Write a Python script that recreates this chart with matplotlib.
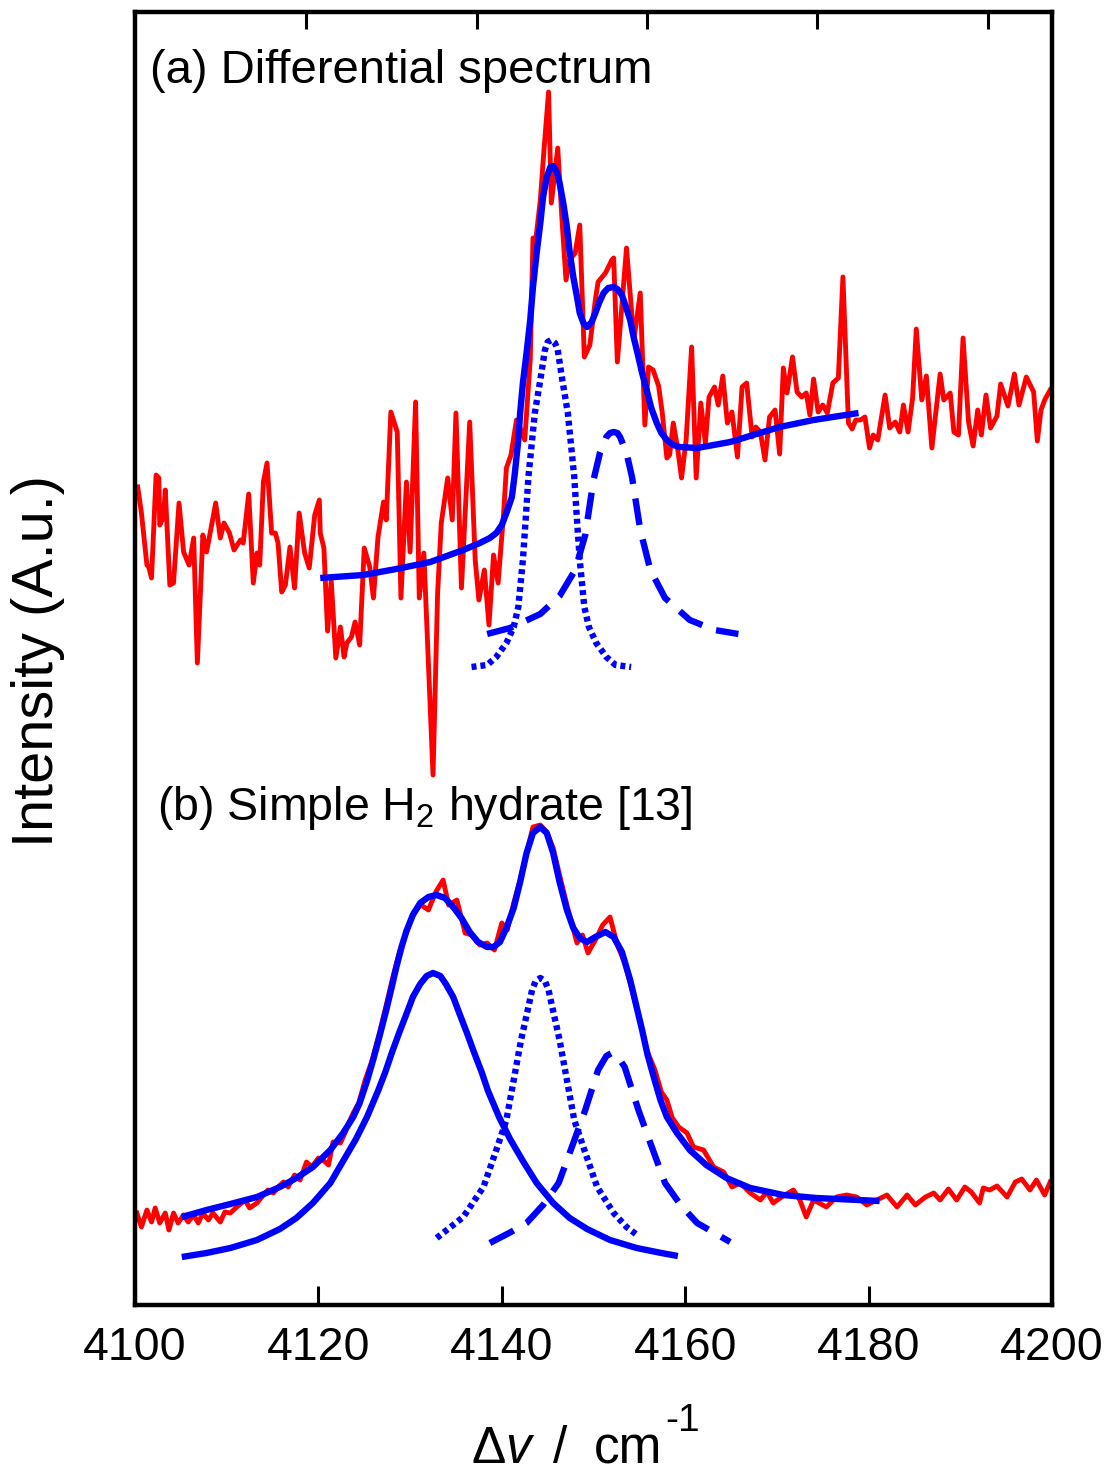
import matplotlib
matplotlib.use("Agg")
import matplotlib.pyplot as plt

plt.rcParams['font.family'] = ['Liberation Sans', 'DejaVu Sans']
plt.rcParams['mathtext.fontset'] = 'custom'
plt.rcParams['mathtext.rm'] = 'Liberation Sans'
plt.rcParams['mathtext.it'] = 'Liberation Sans:italic'

# (a) differential spectrum, raw data
wn_a = [4100.3, 4100.7, 4101.3, 4101.5, 4101.8, 4102.3, 4102.6, 4102.7, 4103.1, 4103.3,
        4103.8, 4104.2, 4104.8, 4105.3, 4105.9, 4106.4, 4106.8, 4107.4, 4107.8, 4108.4,
        4108.8, 4109.3, 4109.7, 4110.3, 4110.8, 4111.5, 4111.8, 4112.4, 4112.9, 4113.3,
        4113.6, 4114.0, 4114.4, 4114.9, 4115.3, 4115.6, 4116.0, 4116.4, 4116.9, 4117.4,
        4117.9, 4118.5, 4119.0, 4119.6, 4120.1, 4120.2, 4120.6, 4121.0, 4121.4, 4121.9,
        4122.4, 4122.8, 4123.1, 4123.6, 4124.0, 4124.5, 4125.0, 4125.6, 4126.0, 4126.5,
        4127.1, 4127.4, 4127.9, 4128.6, 4129.0, 4129.6, 4130.0, 4130.6, 4131.0, 4131.5,
        4132.5, 4133.0, 4133.4, 4134.1, 4134.6, 4135.0, 4135.6, 4136.5, 4137.1, 4137.5,
        4138.1, 4138.6, 4139.1, 4139.6, 4140.2, 4140.5, 4141.0, 4141.6, 4142.0, 4142.5,
        4143.1, 4143.4, 4143.7, 4144.2, 4144.6, 4145.1, 4145.4, 4146.1, 4146.6, 4147.0,
        4147.4, 4148.0, 4148.5, 4149.0, 4149.6, 4150.2, 4150.5, 4151.3, 4152.0, 4152.2,
        4152.6, 4153.6, 4154.4, 4155.1, 4155.6, 4156.0, 4156.5, 4157.1, 4157.5, 4158.0,
        4158.3, 4158.7, 4159.2, 4159.6, 4160.1, 4160.7, 4161.2, 4161.7, 4162.2, 4162.6,
        4163.2, 4163.6, 4164.1, 4164.6, 4165.1, 4165.7, 4166.2, 4166.7, 4167.3, 4167.7,
        4168.2, 4168.7, 4169.2, 4169.8, 4170.3, 4170.7, 4171.1, 4171.7, 4172.2, 4172.7,
        4173.2, 4173.6, 4174.0, 4174.5, 4175.0, 4175.5, 4176.1, 4176.7, 4177.2, 4177.8,
        4178.2, 4178.6, 4179.1, 4179.6, 4180.1, 4180.5, 4181.0, 4181.8, 4182.3, 4182.9,
        4183.4, 4183.8, 4184.3, 4184.8, 4185.2, 4185.8, 4186.3, 4186.9, 4187.8, 4188.2,
        4188.9, 4189.3, 4189.8, 4190.3, 4190.9, 4191.4, 4191.9, 4192.3, 4192.8, 4193.3,
        4194.0, 4194.4, 4195.2, 4195.9, 4196.4, 4197.2, 4198.0, 4198.4, 4198.8, 4199.2,
        4199.8]
int_a = [8.18, 7.92, 7.40, 7.38, 7.27, 8.30, 8.27, 7.80, 7.88, 8.15,
         7.20, 7.22, 8.02, 7.53, 7.40, 7.67, 6.42, 7.70, 7.53, 7.82,
         8.02, 7.67, 7.82, 7.72, 7.55, 7.65, 7.62, 8.11, 7.22, 7.52,
         7.40, 8.23, 8.42, 7.72, 7.72, 7.62, 7.13, 7.20, 7.58, 7.17,
         7.92, 7.52, 7.37, 7.90, 8.05, 7.72, 7.57, 6.74, 7.24, 6.47,
         6.78, 6.48, 6.62, 6.68, 6.83, 6.60, 7.57, 7.38, 7.07, 7.68,
         8.03, 7.85, 8.93, 8.73, 7.07, 8.23, 7.53, 9.03, 7.07, 7.52,
         5.30, 7.12, 7.82, 8.27, 7.85, 8.92, 7.17, 8.83, 7.45, 7.05,
         7.35, 6.80, 7.50, 7.22, 7.92, 8.37, 8.50, 8.85, 8.77, 8.65,
         9.45, 10.67, 10.65, 11.05, 11.55, 12.13, 11.02, 11.57, 10.80, 10.25,
         10.45, 10.52, 10.80, 9.48, 9.60, 10.05, 10.23, 10.32, 10.45, 10.47,
         9.43, 10.57, 9.65, 10.12, 8.80, 9.38, 9.35, 9.19, 8.92, 8.47,
         8.50, 8.82, 8.55, 8.27, 8.65, 9.58, 8.27, 9.02, 8.62, 9.08,
         9.18, 9.00, 9.29, 8.82, 8.93, 8.48, 9.18, 9.22, 8.68, 8.78,
         8.73, 8.45, 8.88, 8.95, 8.51, 9.37, 9.12, 9.48, 9.13, 9.08,
         9.12, 8.90, 9.26, 8.93, 9.00, 8.92, 9.22, 9.27, 10.28, 8.82,
         8.76, 8.85, 8.85, 8.88, 8.57, 8.70, 8.65, 9.10, 8.77, 8.83,
         8.73, 9.00, 8.73, 9.07, 9.76, 9.05, 9.29, 8.57, 9.31, 9.05,
         9.12, 8.73, 8.70, 9.67, 8.83, 8.59, 8.95, 8.70, 9.10, 8.77,
         8.89, 9.21, 8.99, 9.31, 9.00, 9.28, 9.13, 8.64, 8.95, 9.05,
         9.15]

# (a) fitted envelope and its two components
fit_a_wn = [4120.2, 4124.9, 4128.5, 4132.2, 4135.8, 4137.6, 4138.7, 4139.4, 4140.0, 4140.5,
            4141.1, 4141.4, 4141.8, 4142.0, 4142.3, 4142.7, 4143.1, 4143.4, 4143.8, 4144.2,
            4144.5, 4144.9, 4145.3, 4145.6, 4146.0, 4146.3, 4146.7, 4147.1, 4147.4, 4147.8,
            4148.2, 4148.5, 4148.9, 4149.3, 4149.8, 4150.2, 4150.6, 4151.1, 4151.6, 4152.2,
            4152.6, 4153.1, 4153.5, 4154.0, 4154.4, 4154.9, 4155.3, 4155.8, 4156.3, 4156.9,
            4157.4, 4158.0, 4158.7, 4159.4, 4161.3, 4163.1, 4164.9, 4166.7, 4168.5, 4170.3,
            4174.0, 4178.9]
fit_a_int = [7.27, 7.30, 7.36, 7.43, 7.55, 7.62, 7.67, 7.72, 7.80, 7.92,
             8.08, 8.30, 8.65, 8.92, 9.22, 9.52, 9.85, 10.18, 10.52, 10.82,
             11.08, 11.28, 11.38, 11.39, 11.33, 11.22, 11.02, 10.78, 10.53, 10.28,
             10.08, 9.92, 9.82, 9.78, 9.83, 9.92, 10.02, 10.12, 10.17, 10.18,
             10.16, 10.10, 9.99, 9.85, 9.67, 9.48, 9.32, 9.15, 8.97, 8.82,
             8.72, 8.65, 8.60, 8.58, 8.57, 8.60, 8.63, 8.68, 8.73, 8.78,
             8.85, 8.92]

peak1_a_wn = [4136.7, 4138.4, 4139.4, 4140.5, 4141.3, 4141.8, 4142.3, 4142.6, 4142.9, 4143.6,
              4144.2, 4144.7, 4145.0, 4145.4, 4145.8, 4146.1, 4146.6, 4147.2, 4147.9, 4148.2,
              4148.5, 4149.0, 4149.5, 4150.3, 4151.4, 4152.4, 4154.1]
peak1_a_int = [6.38, 6.40, 6.48, 6.62, 6.78, 6.98, 7.45, 7.85, 8.28, 8.92,
               9.25, 9.55, 9.63, 9.65, 9.62, 9.55, 9.25, 8.92, 8.28, 7.85,
               7.45, 6.98, 6.78, 6.62, 6.48, 6.40, 6.38]

peak2_a_wn = [4138.4, 4140.9, 4144.2, 4146.3, 4148.0, 4149.1, 4150.0, 4150.7, 4151.4, 4151.8,
              4152.2, 4152.6, 4152.9, 4153.6, 4154.2, 4155.1, 4156.2, 4157.8, 4160.5, 4163.2,
              4165.8]
peak2_a_int = [6.71, 6.77, 6.91, 7.09, 7.35, 7.70, 8.25, 8.52, 8.68, 8.72,
               8.73, 8.72, 8.68, 8.52, 8.28, 7.75, 7.35, 7.07, 6.85, 6.75,
               6.71]

# (b) simple H2 hydrate, raw data
wn_b = [4100.2, 4100.7, 4101.3, 4101.8, 4102.2, 4102.7, 4103.3, 4103.7, 4104.2, 4104.7,
        4105.3, 4105.8, 4106.4, 4106.9, 4107.4, 4108.0, 4108.5, 4109.3, 4109.8, 4110.4,
        4111.1, 4112.0, 4112.5, 4113.3, 4114.0, 4114.5, 4115.1, 4115.6, 4116.2, 4116.7,
        4117.4, 4118.0, 4118.7, 4119.3, 4120.0, 4120.5, 4121.1, 4121.6, 4122.4, 4122.9,
        4123.3, 4123.8, 4124.4, 4125.1, 4125.8, 4126.6, 4127.4, 4128.1, 4128.9, 4129.7,
        4130.4, 4131.2, 4132.0, 4132.8, 4133.6, 4134.2, 4135.1, 4136.0, 4136.7, 4137.6,
        4138.4, 4139.2, 4140.0, 4140.6, 4141.3, 4142.0, 4142.7, 4143.4, 4144.2, 4144.9,
        4145.6, 4146.3, 4147.1, 4148.2, 4148.8, 4149.4, 4150.2, 4151.0, 4151.8, 4152.6,
        4153.4, 4154.2, 4155.1, 4155.8, 4156.7, 4157.4, 4158.0, 4158.6, 4159.3, 4160.2,
        4160.9, 4162.0, 4163.1, 4164.2, 4165.1, 4166.0, 4167.1, 4168.2, 4168.9, 4169.6,
        4170.5, 4171.8, 4172.5, 4173.2, 4174.0, 4175.4, 4176.5, 4177.6, 4178.7, 4179.8,
        4180.9, 4182.0, 4183.1, 4184.2, 4185.1, 4186.2, 4187.1, 4187.8, 4188.7, 4189.6,
        4190.5, 4191.2, 4192.1, 4192.5, 4193.2, 4194.0, 4195.1, 4196.0, 4196.7, 4197.6,
        4198.3, 4199.2, 4199.8]
int_b = [0.92, 0.78, 0.95, 0.83, 0.97, 0.82, 0.92, 0.75, 0.92, 0.82,
         0.90, 0.83, 0.90, 0.82, 0.92, 0.85, 0.92, 0.83, 0.93, 0.92,
         0.98, 1.05, 0.97, 1.02, 1.10, 1.15, 1.12, 1.18, 1.23, 1.18,
         1.30, 1.25, 1.43, 1.38, 1.47, 1.45, 1.40, 1.63, 1.62, 1.72,
         1.82, 1.92, 2.02, 2.25, 2.43, 2.70, 3.00, 3.27, 3.55, 3.75,
         3.93, 4.00, 3.95, 4.13, 4.25, 4.00, 4.05, 3.72, 3.70, 3.60,
         3.62, 3.55, 3.82, 3.75, 4.02, 4.25, 4.52, 4.78, 4.80, 4.73,
         4.57, 4.30, 4.00, 3.62, 3.70, 3.52, 3.65, 3.80, 3.88, 3.60,
         3.42, 3.15, 2.83, 2.55, 2.35, 2.13, 2.05, 1.87, 1.78, 1.72,
         1.58, 1.55, 1.38, 1.33, 1.18, 1.22, 1.12, 1.05, 1.13, 1.02,
         1.08, 1.15, 1.05, 0.88, 1.05, 0.98, 1.08, 1.10, 1.08, 1.00,
         1.05, 1.10, 0.98, 1.10, 1.00, 1.08, 1.12, 1.05, 1.16, 1.05,
         1.18, 1.13, 1.02, 1.17, 1.15, 1.19, 1.08, 1.23, 1.26, 1.15,
         1.25, 1.10, 1.23]

# (b) fitted envelope and its three components
fit_b_wn = [4105.1, 4107.8, 4110.4, 4113.3, 4115.8, 4117.6, 4119.4, 4121.3, 4122.7, 4123.8,
            4124.5, 4125.3, 4126.0, 4126.7, 4127.4, 4128.0, 4128.5, 4129.1, 4129.6, 4130.3,
            4131.1, 4132.0, 4132.9, 4133.8, 4134.7, 4135.6, 4136.5, 4137.4, 4138.4, 4139.1,
            4139.8, 4140.5, 4141.3, 4142.0, 4142.7, 4143.4, 4144.2, 4144.9, 4145.6, 4146.3,
            4147.1, 4147.8, 4148.5, 4149.3, 4150.2, 4151.3, 4152.2, 4153.1, 4154.0, 4154.7,
            4155.3, 4155.9, 4156.6, 4157.3, 4158.0, 4159.1, 4160.5, 4162.3, 4164.5, 4167.1,
            4170.7, 4174.3, 4181.2]
fit_b_int = [0.88, 0.95, 1.01, 1.08, 1.18, 1.27, 1.38, 1.55, 1.72, 1.88,
             2.02, 2.24, 2.46, 2.70, 2.95, 3.18, 3.38, 3.59, 3.74, 3.90,
             4.02, 4.08, 4.10, 4.07, 3.98, 3.87, 3.73, 3.63, 3.58, 3.58,
             3.63, 3.77, 3.97, 4.23, 4.52, 4.72, 4.78, 4.72, 4.52, 4.23,
             3.95, 3.77, 3.67, 3.63, 3.68, 3.73, 3.68, 3.53, 3.25, 2.98,
             2.75, 2.50, 2.27, 2.05, 1.88, 1.72, 1.55, 1.40, 1.27, 1.17,
             1.10, 1.07, 1.04]

peak1_b_wn = [4105.1, 4107.8, 4110.4, 4113.3, 4115.8, 4117.6, 4119.4, 4121.3, 4122.7, 4124.1,
              4125.3, 4126.5, 4127.3, 4128.0, 4128.8, 4129.6, 4130.3, 4131.1, 4131.8, 4132.5,
              4133.3, 4133.9, 4134.7, 4135.4, 4136.2, 4137.0, 4137.8, 4138.5, 4139.7, 4140.9,
              4142.3, 4143.8, 4145.6, 4147.4, 4149.3, 4151.8, 4154.7, 4157.4, 4159.2]
peak1_b_int = [0.48, 0.52, 0.57, 0.65, 0.76, 0.87, 1.02, 1.22, 1.44, 1.66,
               1.88, 2.14, 2.33, 2.52, 2.72, 2.91, 3.08, 3.21, 3.29, 3.32,
               3.29, 3.21, 3.08, 2.91, 2.72, 2.52, 2.33, 2.14, 1.88, 1.66,
               1.44, 1.22, 1.02, 0.87, 0.76, 0.65, 0.57, 0.52, 0.49]

peak2_b_wn = [4132.9, 4135.8, 4138.0, 4139.4, 4140.5, 4141.4, 4142.1, 4142.9, 4143.3, 4143.7,
              4144.2, 4144.7, 4145.1, 4145.5, 4146.3, 4147.0, 4147.9, 4149.0, 4150.4, 4152.2,
              4153.6, 4154.9]
peak2_b_int = [0.67, 0.88, 1.18, 1.55, 1.85, 2.30, 2.65, 2.98, 3.15, 3.24,
               3.27, 3.24, 3.15, 2.98, 2.65, 2.30, 1.85, 1.55, 1.18, 0.92,
               0.78, 0.69]

peak3_b_wn = [4138.7, 4141.0, 4142.7, 4144.5, 4146.2, 4147.8, 4149.1, 4150.5, 4151.4, 4152.0,
              4152.6, 4153.4, 4154.9, 4156.2, 4157.8, 4159.5, 4161.3, 4164.9]
peak3_b_int = [0.62, 0.73, 0.82, 1.00, 1.22, 1.62, 1.95, 2.35, 2.49, 2.52,
               2.49, 2.38, 1.95, 1.62, 1.22, 1.00, 0.82, 0.63]

x_ticks = [4100, 4120, 4140, 4160, 4180, 4200]
top_ticks = [4118.6, 4137.3, 4155.8, 4174.4, 4193.0]

W, H = 1112, 1472
fig = plt.figure(figsize=(W / 100, H / 100), dpi=100)
ax = fig.add_axes([135 / W, 167 / H, 917 / W, 1293 / H])

red_kw = dict(color='#ff0000', lw=3.5, zorder=2)
blue_kw = dict(color='#0000ff', lw=4.6, zorder=3, solid_capstyle='butt')
dot = (0.78, 0.62)
dash = (4.2, 2.3)

ax.plot(wn_a, int_a, **red_kw)
ax.plot(wn_b, int_b, **red_kw)

ax.plot(fit_a_wn, fit_a_int, **blue_kw)
ax.plot(peak1_a_wn, peak1_a_int, dashes=dot, dash_capstyle='butt', **blue_kw)
ax.plot(peak2_a_wn, peak2_a_int, dashes=dash, dash_capstyle='butt', **blue_kw)

ax.plot(fit_b_wn, fit_b_int, **blue_kw)
ax.plot(peak1_b_wn, peak1_b_int, **blue_kw)
ax.plot(peak2_b_wn, peak2_b_int, dashes=dot, dash_capstyle='butt', **blue_kw)
ax.plot(peak3_b_wn, peak3_b_int, dashes=dash, dash_capstyle='butt', **blue_kw)

ax.set_xlim(4100, 4200)
ax.set_ylim(0, 12.93)
ax.set_xticks(x_ticks)
ax.set_yticks([])
ax.tick_params(axis='x', direction='in', length=13.5, width=2.2, pad=15, labelsize=33.5)
for s in ax.spines.values():
    s.set_linewidth(3.2)

top = ax.secondary_xaxis('top')
top.set_xticks(top_ticks)
top.tick_params(direction='in', length=12, width=2.2, labeltop=False)

ax.text(4101.6, 12.22, '(a) Differential spectrum', fontsize=34, va='baseline', ha='left')
ax.text(4102.4, 4.85, '(b) Simple H$_2$ hydrate [13]', fontsize=33.5, va='baseline', ha='left')

# axis titles, laid out piece by piece like the original
fig.text(471 / W, 1 - 1463 / H, r'$\Delta\mathit{v}$', fontsize=37, ha='left', va='baseline')
fig.text(553 / W, 1 - 1463 / H, '/', fontsize=37, ha='left', va='baseline')
fig.text(594 / W, 1 - 1463 / H, 'cm', fontsize=37, ha='left', va='baseline')
fig.text(665 / W, 1 - 1431 / H, '-1', fontsize=28, ha='left', va='baseline')
fig.text(38 / W, 1 - 661 / H, 'Intensity (A.u.)', fontsize=41.5, rotation=90,
         ha='center', va='center')

fig.savefig('out.png', dpi=100)
